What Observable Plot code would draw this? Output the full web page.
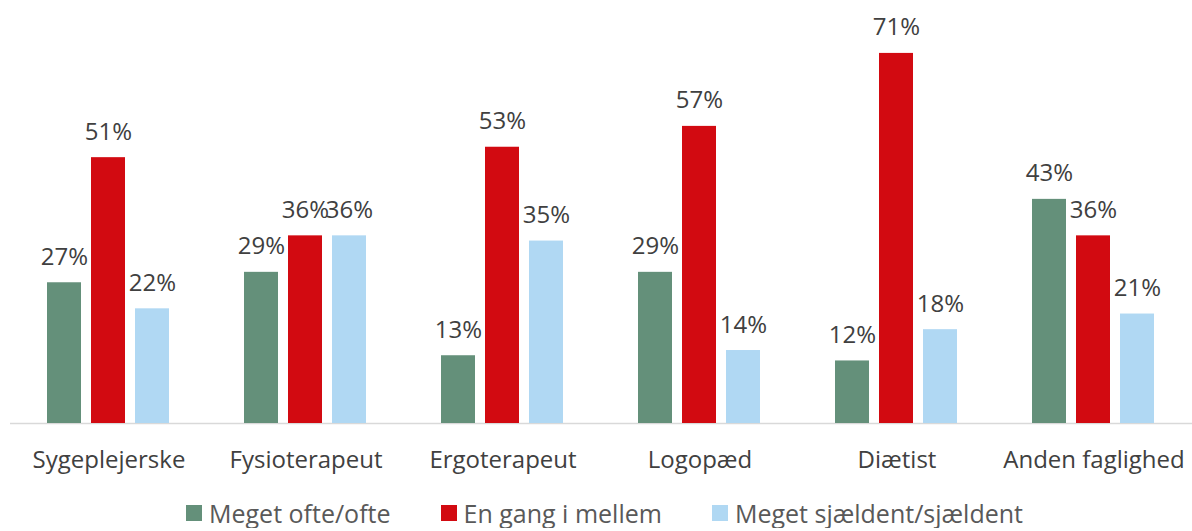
<!DOCTYPE html>
<html>
<head>
<meta charset="utf-8">
<script src="https://cdn.jsdelivr.net/npm/d3@7"></script>
<script src="https://cdn.jsdelivr.net/npm/@observablehq/plot@0.6"></script>
<style>
  body { margin: 0; background: #fff; font-family: "Open Sans", sans-serif; }
  #legend { display: flex; justify-content: center; align-items: center; gap: 50px; margin-top: 18px; font-size: 25px; line-height: 30px; color: #595959; padding-left: 17px; }
  #legend .item { display: flex; align-items: center; gap: 7px; }
  #legend .sw { width: 16px; height: 16px; display: inline-block; }
</style>
</head>
<body>
<div id="chart"></div>
<div id="legend"></div>
<script>
const groups = ["Sygeplejerske", "Fysioterapeut", "Ergoterapeut", "Logopæd", "Diætist", "Anden faglighed"];
const seriesNames = ["Meget ofte/ofte", "En gang i mellem", "Meget sjældent/sjældent"];
const oftenValues = [27, 29, 13, 29, 12, 43];
const sometimesValues = [51, 36, 53, 57, 71, 36];
const rarelyValues = [22, 36, 35, 14, 18, 21];
const colors = ["#64907a", "#d20a11", "#b0d8f3"];

const seriesValues = [oftenValues, sometimesValues, rarelyValues];
const data = [];
groups.forEach((g, i) => {
  seriesNames.forEach((s, j) => {
    data.push({group: g, series: s, value: seriesValues[j][i]});
  });
});

const chart = Plot.plot({
  width: 1192,
  height: 480,
  marginLeft: 10,
  marginRight: 0,
  marginTop: 6,
  marginBottom: 57,
  style: { fontFamily: "Open Sans, sans-serif", background: "#fff" },
  fx: { domain: groups, padding: 0 },
  x: { domain: seriesNames, paddingInner: 0.227, paddingOuter: 0.852, axis: null },
  y: { domain: [0, 80], axis: null },
  color: { domain: seriesNames, range: colors },
  marks: [
    Plot.ruleY([0], { stroke: "#d9d9d9", strokeWidth: 1.5 }),
    Plot.barY(data, { fx: "group", x: "series", y: "value", fill: "series" }),
    Plot.text(data, {
      fx: "group", x: "series", y: "value",
      text: d => d.value + "%",
      lineAnchor: "bottom", dy: -18,
      fontSize: 24, fill: "#404040"
    }),
    Plot.axisFx({ anchor: "bottom", tickSize: 0, tickPadding: 27, fontSize: 24, label: null, color: "#404040" })
  ]
});
document.getElementById("chart").appendChild(chart);

const legend = document.getElementById("legend");
seriesNames.forEach((s, i) => {
  const item = document.createElement("span");
  item.className = "item";
  const sw = document.createElement("span");
  sw.className = "sw";
  sw.style.background = colors[i];
  const t = document.createElement("span");
  t.textContent = s;
  item.appendChild(sw);
  item.appendChild(t);
  legend.appendChild(item);
});
</script>
</body>
</html>
